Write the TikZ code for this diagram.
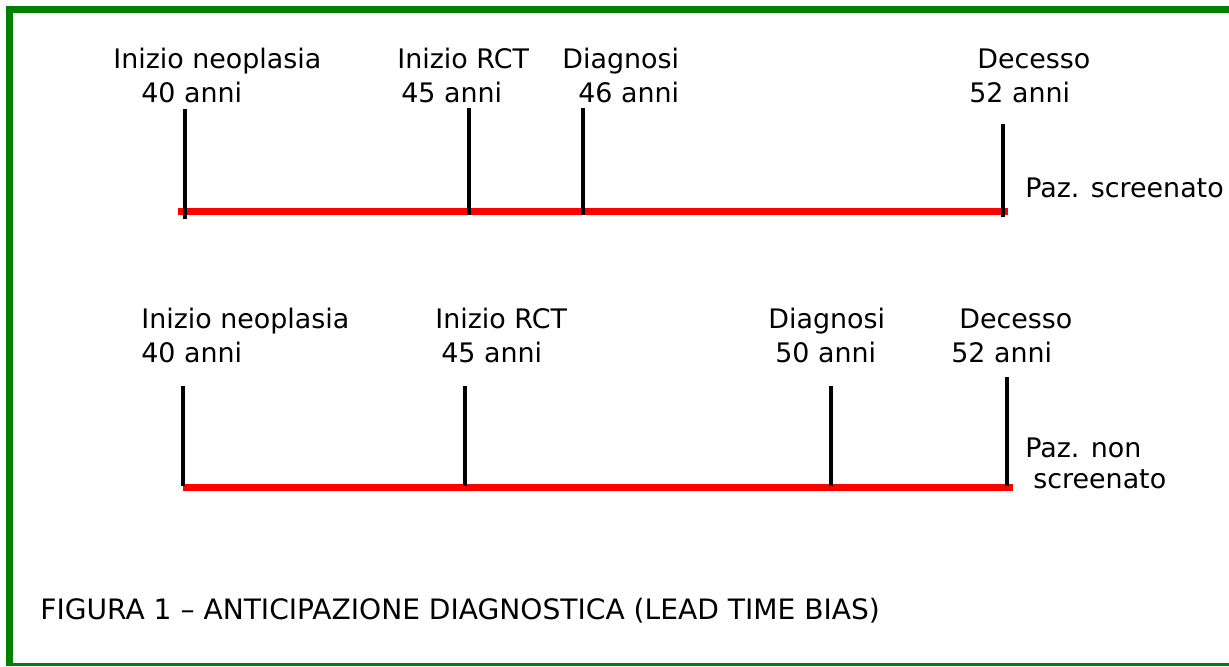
\documentclass[tikz,border=0pt]{standalone}
\usepackage{fontspec}
\setmainfont{DejaVu Sans}
\usepackage{xcolor}
\definecolor{cornice}{RGB}{0,128,0}
\usetikzlibrary{calc}
\tikzset{
	lbl/.style={anchor=base west, inner sep=0pt, font=\fontsize{15.3}{19}\selectfont},
	asse/.style={draw=red, line width=4.5pt},
	tacca/.style={draw=black, line width=2.2pt}
}

\begin{document}
\begin{tikzpicture}[x=0.02cm, y=-0.02cm]%[baseline={(current bounding box.center)}]
			\useasboundingbox (0,0) rectangle (1229,666);
			% cornice
			\draw[cornice, line width=4pt] (1229,9.5) -- (9.5,9.5) -- (9.5,666);
			\draw[cornice, line width=1.7pt] (9.5,664.5) -- (1229,664.5);

			% paziente screenato
			\node[lbl] (sneo) at (113,68) {Inizio neoplasia};
			\node[lbl] (sneoeta) at (141,102) {40 anni};
			\node[lbl] (srct) at (397,68) {Inizio RCT};
			\node[lbl] (srcteta) at (401,102) {45 anni};
			\node[lbl] (sdia) at (562,68) {Diagnosi};
			\node[lbl] (sdiaeta) at (578,102) {46 anni};
			\node[lbl] (sdec) at (977,68) {Decesso};
			\node[lbl] (sdeceta) at (969,102) {52 anni};
			\node[lbl] (spaz) at (1025,197) {Paz. screenato};

			\coordinate (sa) at (178,211.5);
			\coordinate (sb) at (1008,211.5);
			\draw[asse] (sa) -- (sb);
			\foreach \x/\t/\b in {185/109/219, 469/108/215, 583/108/215, 1003/124/217}{
				\coordinate (st\x) at (\x,\t);
				\coordinate (sf\x) at (\x,\b);
				\draw[tacca] (st\x) -- (sf\x);
			}

			% paziente non screenato
			\node[lbl] (nneo) at (141,328) {Inizio neoplasia};
			\node[lbl] (nneoeta) at (141,362) {40 anni};
			\node[lbl] (nrct) at (435,328) {Inizio RCT};
			\node[lbl] (nrcteta) at (441,362) {45 anni};
			\node[lbl] (ndia) at (768,328) {Diagnosi};
			\node[lbl] (ndiaeta) at (775,362) {50 anni};
			\node[lbl] (ndec) at (959,328) {Decesso};
			\node[lbl] (ndeceta) at (951,362) {52 anni};
			\node[lbl] (npaz) at (1025,457) {Paz. non};
			\node[lbl] (npazb) at (1033,488) {screenato};

			\coordinate (na) at (183,487.5);
			\coordinate (nb) at (1013,487.5);
			\draw[asse] (na) -- (nb);
			\foreach \x/\t/\b in {183/386/486, 465/386/486, 831/386/486, 1007/377/486}{
				\coordinate (nt\x) at (\x,\t);
				\coordinate (nf\x) at (\x,\b);
				\draw[tacca] (nt\x) -- (nf\x);
			}

			% didascalia
			\node[lbl, font=\fontsize{16}{19}\selectfont] (fig) at (40,619) {FIGURA 1 – ANTICIPAZIONE DIAGNOSTICA (LEAD TIME BIAS)};
		\end{tikzpicture}
\end{document}
